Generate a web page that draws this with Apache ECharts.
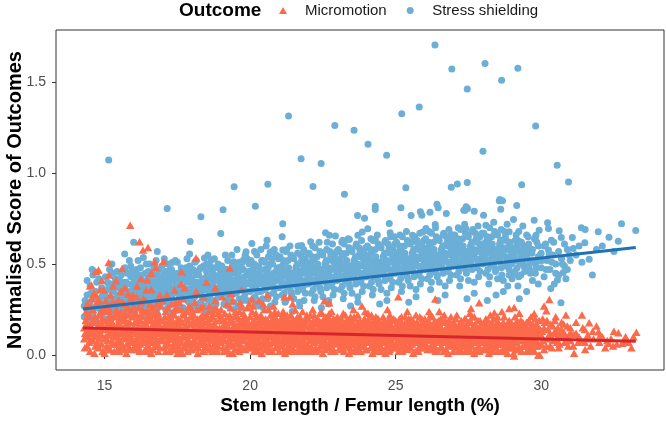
<!DOCTYPE html>
<html>
<head>
<meta charset="utf-8">
<title>Outcome vs stem length</title>
<script src="https://cdn.jsdelivr.net/npm/echarts@6/dist/echarts.min.js"></script>
<style>
  html, body { margin: 0; padding: 0; background: #fff; }
  #chart { width: 666px; height: 421px; }
</style>
</head>
<body>
<div id="chart"></div>
<script>
// values
const xTicks = [15, 20, 25, 30];
const yTicks = [0, 0.5, 1.0, 1.5];

// fitted lines, endpoints
const fitX = [14.26, 33.25];
const stressFit = [0.253, 0.592];
const microFit = [0.148, 0.075];

const stressPoints = [
  [14.3,0.21],[14.3,0.27],[14.4,0.24],[14.4,0.33],[14.5,0.19],[14.5,0.29],[14.5,0.38],[14.6,0.23],[14.6,0.31],[14.7,0.26],
  [14.7,0.35],[14.7,0.2],[14.8,0.28],[14.8,0.42],[14.9,0.22],[14.9,0.32],[14.9,0.37],[14.4,0.41],[14.6,0.44],[14.85,0.25],
  [14.33,0.3],[14.43,0.26],[14.53,0.34],[14.63,0.2],[14.73,0.4],[14.83,0.3],[14.93,0.27],[14.57,0.47],
  [15.0,0.24],[15.0,0.34],[15.1,0.29],[15.1,0.4],[15.1,0.2],[15.2,0.27],[15.2,0.36],[15.3,0.23],[15.3,0.31],[15.3,0.45],
  [15.4,0.26],[15.4,0.38],[15.5,0.3],[15.5,0.21],[15.5,0.42],[15.6,0.28],[15.6,0.35],[15.7,0.25],[15.7,0.33],[15.7,0.48],
  [15.8,0.3],[15.8,0.39],[15.9,0.27],[15.9,0.43],[15.9,0.22],[15.25,0.5],[15.45,0.33],[15.85,0.52],[15.69,0.555],[16.0,0.621],
  [15.14,1.073],
  [15.03,0.28],[15.03,0.43],[15.1,0.36],[15.1,0.24],[15.17,0.31],[15.17,0.47],[15.23,0.2],[15.23,0.39],[15.3,0.35],[15.3,0.27],
  [15.37,0.42],[15.37,0.22],[15.43,0.29],[15.43,0.46],[15.5,0.37],[15.5,0.25],[15.57,0.32],[15.57,0.44],[15.63,0.21],[15.63,0.4],
  [15.7,0.29],[15.7,0.36],[15.77,0.45],[15.77,0.23],[15.83,0.34],[15.83,0.27],[15.9,0.49],[15.9,0.33],[15.97,0.37],[15.97,0.25],
  [15.02,0.33],[15.08,0.26],[15.14,0.39],[15.2,0.31],[15.26,0.24],[15.32,0.37],[15.38,0.3],[15.44,0.41],[15.5,0.28],[15.56,0.38],
  [15.62,0.33],[15.68,0.26],[15.74,0.4],[15.8,0.35],[15.86,0.29],[15.92,0.46],
  [16.0,0.31],[16.0,0.4],[16.1,0.26],[16.1,0.35],[16.1,0.47],[16.2,0.29],[16.2,0.42],[16.3,0.24],[16.3,0.36],[16.4,0.32],
  [16.4,0.45],[16.4,0.27],[16.5,0.38],[16.5,0.3],[16.6,0.22],[16.6,0.41],[16.6,0.34],[16.7,0.28],[16.7,0.49],[16.8,0.33],
  [16.8,0.25],[16.8,0.44],[16.9,0.37],[16.9,0.3],[16.15,0.52],[16.55,0.5],[16.95,0.41],[16.33,0.536],[16.81,0.569],
  [16.03,0.36],[16.03,0.23],[16.1,0.44],[16.1,0.3],[16.17,0.38],[16.17,0.26],[16.23,0.48],[16.23,0.33],[16.3,0.28],[16.3,0.41],
  [16.37,0.35],[16.37,0.21],[16.43,0.39],[16.43,0.5],[16.5,0.27],[16.5,0.43],[16.57,0.31],[16.57,0.37],[16.63,0.46],[16.63,0.25],
  [16.7,0.35],[16.7,0.4],[16.77,0.29],[16.77,0.52],[16.83,0.38],[16.83,0.22],[16.9,0.43],[16.9,0.27],[16.97,0.34],[16.97,0.49],
  [16.02,0.34],[16.08,0.41],[16.14,0.29],[16.2,0.37],[16.26,0.44],[16.32,0.31],[16.38,0.39],[16.44,0.35],[16.5,0.46],[16.56,0.28],
  [16.62,0.38],[16.68,0.43],[16.74,0.32],[16.8,0.4],[16.86,0.47],[16.92,0.35],
  [17.0,0.29],[17.0,0.39],[17.1,0.34],[17.1,0.46],[17.2,0.27],[17.2,0.41],[17.3,0.32],[17.3,0.37],[17.4,0.24],[17.4,0.44],
  [17.5,0.35],[17.5,0.29],[17.5,0.51],[17.6,0.39],[17.6,0.31],[17.7,0.43],[17.7,0.26],[17.8,0.36],[17.8,0.48],[17.9,0.33],
  [17.9,0.4],[17.05,0.53],[17.25,0.47],[17.55,0.42],[17.85,0.3],[17.95,0.46],[17.32,0.509],[17.92,0.555],[17.94,0.624],[17.15,0.806],
  [17.03,0.33],[17.03,0.45],[17.1,0.25],[17.1,0.4],[17.17,0.36],[17.17,0.5],[17.23,0.29],[17.23,0.43],[17.3,0.47],[17.3,0.23],
  [17.37,0.34],[17.37,0.41],[17.43,0.28],[17.43,0.52],[17.5,0.38],[17.5,0.45],[17.57,0.26],[17.57,0.35],[17.63,0.48],[17.63,0.42],
  [17.7,0.31],[17.7,0.37],[17.77,0.45],[17.77,0.24],[17.83,0.4],[17.83,0.53],[17.9,0.29],[17.9,0.44],[17.97,0.36],[17.97,0.27],
  [17.02,0.37],[17.08,0.43],[17.14,0.31],[17.2,0.39],[17.26,0.35],[17.32,0.45],[17.38,0.29],[17.44,0.38],[17.5,0.42],[17.56,0.33],
  [17.62,0.37],[17.68,0.47],[17.74,0.34],[17.8,0.41],[17.86,0.36],[17.92,0.49],
  [18.0,0.31],[18.0,0.42],[18.1,0.37],[18.1,0.27],[18.2,0.45],[18.2,0.34],[18.3,0.4],[18.3,0.29],[18.4,0.36],[18.4,0.49],
  [18.5,0.32],[18.5,0.43],[18.6,0.38],[18.6,0.26],[18.7,0.46],[18.7,0.35],[18.8,0.41],[18.8,0.3],[18.9,0.37],[18.9,0.5],
  [18.15,0.52],[18.45,0.24],[18.55,0.55],[18.75,0.28],[18.95,0.44],[18.43,0.533],[18.66,0.522],[18.31,0.76],[18.99,0.668],
  [18.03,0.37],[18.03,0.47],[18.1,0.32],[18.1,0.51],[18.17,0.28],[18.17,0.4],[18.23,0.44],[18.23,0.25],[18.3,0.35],[18.3,0.48],
  [18.37,0.31],[18.37,0.42],[18.43,0.38],[18.43,0.27],[18.5,0.46],[18.5,0.36],[18.57,0.3],[18.57,0.41],[18.63,0.49],[18.63,0.34],
  [18.7,0.39],[18.7,0.25],[18.77,0.44],[18.77,0.53],[18.83,0.35],[18.83,0.28],[18.9,0.42],[18.9,0.32],[18.97,0.47],[18.97,0.38],
  [18.02,0.39],[18.08,0.34],[18.14,0.44],[18.2,0.38],[18.26,0.47],[18.32,0.33],[18.38,0.41],[18.44,0.36],[18.5,0.5],[18.56,0.4],
  [18.62,0.32],[18.68,0.43],[18.74,0.37],[18.8,0.48],[18.86,0.41],[18.92,0.35],
  [19.0,0.33],[19.0,0.44],[19.1,0.39],[19.1,0.28],[19.2,0.47],[19.2,0.36],[19.3,0.41],[19.3,0.31],[19.4,0.38],[19.4,0.5],
  [19.5,0.34],[19.5,0.45],[19.6,0.4],[19.6,0.27],[19.7,0.48],[19.7,0.36],[19.8,0.43],[19.8,0.32],[19.9,0.39],[19.9,0.53],
  [19.15,0.55],[19.45,0.25],[19.55,0.58],[19.75,0.3],[19.95,0.46],[19.44,0.513],[19.78,0.525],[19.86,0.568],[19.07,0.799],[19.45,0.925],
  [19.03,0.38],[19.03,0.49],[19.1,0.34],[19.1,0.45],[19.17,0.3],[19.17,0.42],[19.23,0.52],[19.23,0.27],[19.3,0.37],[19.3,0.46],
  [19.37,0.33],[19.37,0.55],[19.43,0.41],[19.43,0.29],[19.5,0.48],[19.5,0.39],[19.57,0.35],[19.57,0.44],[19.63,0.31],[19.63,0.51],
  [19.7,0.42],[19.7,0.26],[19.77,0.37],[19.77,0.47],[19.83,0.34],[19.83,0.55],[19.9,0.44],[19.9,0.3],[19.97,0.4],[19.97,0.5],
  [19.02,0.41],[19.08,0.36],[19.14,0.47],[19.2,0.4],[19.26,0.33],[19.32,0.44],[19.38,0.39],[19.44,0.49],[19.5,0.36],[19.56,0.42],
  [19.62,0.46],[19.68,0.38],[19.74,0.51],[19.8,0.4],[19.86,0.35],[19.92,0.45],
  [20.0,0.35],[20.0,0.46],[20.1,0.41],[20.1,0.3],[20.2,0.49],[20.2,0.38],[20.3,0.43],[20.3,0.27],[20.4,0.4],[20.4,0.52],
  [20.5,0.36],[20.5,0.47],[20.6,0.42],[20.6,0.31],[20.7,0.5],[20.7,0.38],[20.8,0.45],[20.8,0.34],[20.9,0.41],[20.9,0.55],
  [20.15,0.57],[20.45,0.26],[20.55,0.6],[20.85,0.29],[20.95,0.48],[20.06,0.613],[20.58,0.632],[20.69,0.564],[20.72,0.568],[20.18,0.819],
  [20.61,0.94],
  [20.03,0.4],[20.03,0.52],[20.1,0.36],[20.1,0.47],[20.17,0.32],[20.17,0.44],[20.23,0.55],[20.23,0.28],[20.3,0.39],[20.3,0.49],
  [20.37,0.35],[20.37,0.58],[20.43,0.43],[20.43,0.31],[20.5,0.51],[20.5,0.41],[20.57,0.37],[20.57,0.46],[20.63,0.33],[20.63,0.54],
  [20.7,0.44],[20.7,0.27],[20.77,0.39],[20.77,0.5],[20.83,0.36],[20.83,0.58],[20.9,0.46],[20.9,0.32],[20.97,0.42],[20.97,0.53],
  [20.02,0.43],[20.08,0.38],[20.14,0.5],[20.2,0.42],[20.26,0.35],[20.32,0.46],[20.38,0.41],[20.44,0.52],[20.5,0.38],[20.56,0.44],
  [20.62,0.48],[20.68,0.4],[20.74,0.53],[20.8,0.43],[20.86,0.37],[20.92,0.47],
  [21.0,0.37],[21.0,0.48],[21.1,0.33],[21.1,0.43],[21.2,0.51],[21.2,0.29],[21.3,0.4],[21.3,0.46],[21.4,0.35],[21.4,0.55],
  [21.5,0.42],[21.5,0.31],[21.6,0.49],[21.6,0.38],[21.7,0.44],[21.7,0.27],[21.8,0.5],[21.8,0.36],[21.9,0.41],[21.9,0.53],
  [21.25,0.58],[21.45,0.24],[21.65,0.6],[21.85,0.3],[21.95,0.47],[21.12,0.577],[21.1,0.65],[21.12,0.722],[21.77,0.602],[21.84,0.581],
  [21.32,1.315],[21.75,1.079],
  [21.03,0.42],[21.03,0.54],[21.1,0.38],[21.1,0.49],[21.17,0.34],[21.17,0.46],[21.23,0.57],[21.23,0.3],[21.3,0.41],[21.3,0.52],
  [21.37,0.37],[21.37,0.6],[21.43,0.45],[21.43,0.33],[21.5,0.53],[21.5,0.43],[21.57,0.39],[21.57,0.48],[21.63,0.35],[21.63,0.56],
  [21.7,0.46],[21.7,0.29],[21.77,0.41],[21.77,0.52],[21.83,0.38],[21.83,0.47],[21.9,0.48],[21.9,0.34],[21.97,0.44],[21.97,0.56],
  [21.02,0.45],[21.08,0.4],[21.14,0.52],[21.2,0.44],[21.26,0.37],[21.32,0.48],[21.38,0.43],[21.44,0.54],[21.5,0.4],[21.56,0.46],
  [21.62,0.5],[21.68,0.42],[21.74,0.55],[21.8,0.45],[21.86,0.39],[21.92,0.49],
  [22.0,0.39],[22.0,0.5],[22.1,0.34],[22.1,0.45],[22.2,0.53],[22.2,0.3],[22.3,0.42],[22.3,0.48],[22.4,0.37],[22.4,0.57],
  [22.5,0.44],[22.5,0.32],[22.6,0.51],[22.6,0.4],[22.7,0.46],[22.7,0.28],[22.8,0.52],[22.8,0.38],[22.9,0.43],[22.9,0.55],
  [22.15,0.6],[22.45,0.26],[22.65,0.62],[22.85,0.33],[22.95,0.49],[22.59,0.672],[22.72,0.659],[22.93,0.655],[22.08,0.623],[22.44,1.053],
  [22.16,0.927],[22.91,1.262],
  [22.03,0.44],[22.03,0.56],[22.1,0.4],[22.1,0.51],[22.17,0.36],[22.17,0.48],[22.23,0.59],[22.23,0.32],[22.3,0.43],[22.3,0.54],
  [22.37,0.39],[22.37,0.62],[22.43,0.47],[22.43,0.35],[22.5,0.55],[22.5,0.45],[22.57,0.41],[22.57,0.5],[22.63,0.37],[22.63,0.58],
  [22.7,0.48],[22.7,0.3],[22.77,0.43],[22.77,0.54],[22.83,0.4],[22.83,0.61],[22.9,0.5],[22.9,0.36],[22.97,0.46],[22.97,0.57],
  [22.02,0.47],[22.08,0.42],[22.14,0.54],[22.2,0.46],[22.26,0.39],[22.32,0.5],[22.38,0.45],[22.44,0.56],[22.5,0.42],[22.56,0.48],
  [22.62,0.52],[22.68,0.44],[22.74,0.57],[22.8,0.47],[22.86,0.41],[22.92,0.51],
  [23.0,0.41],[23.0,0.52],[23.1,0.36],[23.1,0.47],[23.2,0.55],[23.2,0.31],[23.3,0.44],[23.3,0.5],[23.4,0.39],[23.4,0.59],
  [23.5,0.46],[23.5,0.34],[23.6,0.53],[23.6,0.42],[23.7,0.48],[23.7,0.29],[23.8,0.54],[23.8,0.4],[23.9,0.45],[23.9,0.57],
  [23.15,0.62],[23.45,0.27],[23.65,0.61],[23.85,0.35],[23.95,0.51],[23.18,0.632],[23.41,0.636],[23.7,0.659],[23.85,0.677],[23.69,0.767],
  [23.93,0.753],[23.24,0.885],[23.57,1.236],
  [23.03,0.46],[23.03,0.58],[23.1,0.42],[23.1,0.53],[23.17,0.38],[23.17,0.5],[23.23,0.61],[23.23,0.34],[23.3,0.45],[23.3,0.56],
  [23.37,0.41],[23.37,0.64],[23.43,0.49],[23.43,0.37],[23.5,0.57],[23.5,0.47],[23.57,0.43],[23.57,0.52],[23.63,0.39],[23.63,0.6],
  [23.7,0.5],[23.7,0.32],[23.77,0.45],[23.77,0.56],[23.83,0.42],[23.83,0.63],[23.9,0.52],[23.9,0.38],[23.97,0.48],[23.97,0.59],
  [23.02,0.49],[23.08,0.44],[23.14,0.56],[23.2,0.48],[23.26,0.41],[23.32,0.52],[23.38,0.47],[23.44,0.58],[23.5,0.44],[23.56,0.5],
  [23.62,0.54],[23.68,0.46],[23.74,0.59],[23.8,0.49],[23.86,0.43],[23.92,0.53],
  [24.0,0.43],[24.0,0.54],[24.1,0.38],[24.1,0.49],[24.2,0.57],[24.2,0.33],[24.3,0.46],[24.3,0.52],[24.4,0.41],[24.4,0.61],
  [24.5,0.48],[24.5,0.36],[24.6,0.55],[24.6,0.44],[24.7,0.5],[24.7,0.3],[24.8,0.56],[24.8,0.42],[24.9,0.47],[24.9,0.59],
  [24.15,0.64],[24.45,0.28],[24.65,0.63],[24.85,0.37],[24.95,0.53],[24.04,0.694],[24.3,0.636],[24.3,0.819],[24.3,0.8],[24.78,0.723],
  [24.81,0.672],[24.96,0.65],[24.05,1.159],[24.69,1.099],
  [24.03,0.48],[24.03,0.6],[24.1,0.44],[24.1,0.55],[24.17,0.4],[24.17,0.52],[24.23,0.63],[24.23,0.36],[24.3,0.47],[24.3,0.58],
  [24.37,0.43],[24.37,0.66],[24.43,0.51],[24.43,0.39],[24.5,0.59],[24.5,0.49],[24.57,0.45],[24.57,0.54],[24.63,0.41],[24.63,0.62],
  [24.7,0.52],[24.7,0.34],[24.77,0.47],[24.77,0.58],[24.83,0.44],[24.83,0.65],[24.9,0.54],[24.9,0.4],[24.97,0.5],[24.97,0.61],
  [24.02,0.51],[24.08,0.46],[24.14,0.58],[24.2,0.5],[24.26,0.43],[24.32,0.54],[24.38,0.49],[24.44,0.6],[24.5,0.46],[24.56,0.52],
  [24.62,0.56],[24.68,0.48],[24.74,0.61],[24.8,0.51],[24.86,0.45],[24.92,0.55],
  [25.0,0.45],[25.0,0.56],[25.1,0.4],[25.1,0.51],[25.2,0.59],[25.2,0.35],[25.3,0.48],[25.3,0.54],[25.4,0.43],[25.4,0.63],
  [25.5,0.5],[25.5,0.38],[25.6,0.57],[25.6,0.46],[25.7,0.52],[25.7,0.32],[25.8,0.58],[25.8,0.44],[25.9,0.49],[25.9,0.61],
  [25.15,0.66],[25.45,0.29],[25.65,0.65],[25.85,0.39],[25.95,0.55],[25.18,0.81],[25.53,0.767],[25.85,0.788],[25.9,0.769],[25.58,0.659],
  [25.58,0.623],[25.93,0.677],[25.21,1.327],[25.35,0.92],[25.81,1.364],
  [25.03,0.5],[25.03,0.62],[25.1,0.46],[25.1,0.57],[25.17,0.42],[25.17,0.54],[25.23,0.65],[25.23,0.38],[25.3,0.49],[25.3,0.6],
  [25.37,0.45],[25.37,0.68],[25.43,0.53],[25.43,0.41],[25.5,0.61],[25.5,0.51],[25.57,0.47],[25.57,0.56],[25.63,0.43],[25.63,0.64],
  [25.7,0.54],[25.7,0.36],[25.77,0.49],[25.77,0.6],[25.83,0.46],[25.83,0.67],[25.9,0.56],[25.9,0.42],[25.97,0.52],[25.97,0.63],
  [25.02,0.53],[25.08,0.48],[25.14,0.6],[25.2,0.52],[25.26,0.45],[25.32,0.56],[25.38,0.51],[25.44,0.62],[25.5,0.48],[25.56,0.54],
  [25.62,0.58],[25.68,0.5],[25.74,0.63],[25.8,0.53],[25.86,0.47],[25.92,0.57],
  [26.0,0.47],[26.0,0.58],[26.1,0.42],[26.1,0.53],[26.2,0.61],[26.2,0.36],[26.3,0.5],[26.3,0.56],[26.4,0.45],[26.4,0.65],
  [26.5,0.52],[26.5,0.4],[26.6,0.59],[26.6,0.48],[26.7,0.54],[26.7,0.33],[26.8,0.6],[26.8,0.46],[26.9,0.51],[26.9,0.63],
  [26.15,0.68],[26.45,0.3],[26.65,0.67],[26.85,0.41],[26.95,0.57],[26.04,0.696],[26.36,0.718],[26.42,0.83],[26.46,0.81],[26.18,0.786],
  [26.74,0.778],[26.9,0.665],[26.94,0.632],[26.35,1.705],[26.93,1.573],[26.91,0.923],
  [26.03,0.52],[26.03,0.64],[26.1,0.48],[26.1,0.59],[26.17,0.44],[26.17,0.56],[26.23,0.67],[26.23,0.4],[26.3,0.51],[26.3,0.62],
  [26.37,0.47],[26.37,0.7],[26.43,0.55],[26.43,0.43],[26.5,0.63],[26.5,0.53],[26.57,0.49],[26.57,0.58],[26.63,0.45],[26.63,0.66],
  [26.7,0.56],[26.7,0.38],[26.77,0.51],[26.77,0.62],[26.83,0.48],[26.83,0.69],[26.9,0.58],[26.9,0.44],[26.97,0.54],[26.97,0.65],
  [26.02,0.55],[26.08,0.5],[26.14,0.62],[26.2,0.54],[26.26,0.47],[26.32,0.58],[26.38,0.53],[26.44,0.64],[26.5,0.5],[26.56,0.56],
  [26.62,0.6],[26.68,0.52],[26.74,0.65],[26.8,0.55],[26.86,0.49],[26.92,0.59],
  [27.0,0.49],[27.0,0.6],[27.1,0.44],[27.1,0.55],[27.2,0.63],[27.2,0.38],[27.3,0.52],[27.3,0.58],[27.4,0.47],[27.4,0.67],
  [27.5,0.54],[27.5,0.41],[27.6,0.61],[27.6,0.5],[27.7,0.56],[27.7,0.34],[27.8,0.62],[27.8,0.48],[27.9,0.53],[27.9,0.65],
  [27.15,0.7],[27.45,0.31],[27.65,0.69],[27.85,0.43],[27.95,0.58],[27.2,0.621],[27.34,0.797],[27.42,0.815],[27.39,0.797],[27.47,0.806],
  [27.7,0.791],[27.41,0.696],[27.12,0.941],[27.46,0.949],[27.46,1.463],
  [27.03,0.54],[27.03,0.66],[27.1,0.5],[27.1,0.61],[27.17,0.46],[27.17,0.58],[27.23,0.69],[27.23,0.42],[27.3,0.53],[27.3,0.64],
  [27.37,0.49],[27.37,0.72],[27.43,0.57],[27.43,0.45],[27.5,0.65],[27.5,0.55],[27.57,0.51],[27.57,0.6],[27.63,0.47],[27.63,0.68],
  [27.7,0.58],[27.7,0.4],[27.77,0.53],[27.77,0.64],[27.83,0.5],[27.83,0.71],[27.9,0.6],[27.9,0.46],[27.97,0.56],[27.97,0.67],
  [27.02,0.57],[27.08,0.52],[27.14,0.64],[27.2,0.56],[27.26,0.49],[27.32,0.6],[27.38,0.55],[27.44,0.66],[27.5,0.52],[27.56,0.58],
  [27.62,0.62],[27.68,0.54],[27.74,0.67],[27.8,0.57],[27.86,0.51],[27.92,0.61],
  [28.0,0.5],[28.0,0.61],[28.1,0.45],[28.1,0.56],[28.2,0.64],[28.2,0.39],[28.3,0.53],[28.3,0.59],[28.4,0.48],[28.4,0.68],
  [28.5,0.55],[28.5,0.42],[28.6,0.62],[28.6,0.51],[28.7,0.57],[28.7,0.35],[28.8,0.63],[28.8,0.49],[28.9,0.54],[28.9,0.47],
  [28.15,0.3],[28.45,0.33],[28.65,0.44],[28.85,0.38],[28.95,0.59],[28.02,0.769],[28.1,0.714],[28.56,0.848],[28.67,0.848],[28.61,0.802],
  [28.9,0.678],[28.61,0.632],[28.07,1.604],[28.64,1.511],[28.0,1.121],[28.58,0.855],
  [28.03,0.55],[28.03,0.67],[28.1,0.51],[28.1,0.62],[28.17,0.47],[28.17,0.59],[28.23,0.7],[28.23,0.43],[28.3,0.54],[28.3,0.65],
  [28.37,0.5],[28.37,0.73],[28.43,0.58],[28.43,0.46],[28.5,0.66],[28.5,0.56],[28.57,0.52],[28.57,0.61],[28.63,0.48],[28.63,0.69],
  [28.7,0.59],[28.7,0.41],[28.77,0.54],[28.77,0.65],[28.83,0.51],[28.83,0.72],[28.9,0.61],[28.9,0.44],[28.97,0.57],[28.97,0.5],
  [28.02,0.58],[28.08,0.53],[28.14,0.65],[28.2,0.57],[28.26,0.5],[28.32,0.61],[28.38,0.56],[28.44,0.67],[28.5,0.53],[28.56,0.59],
  [28.62,0.63],[28.68,0.55],[28.74,0.68],[28.8,0.58],[28.86,0.52],[28.92,0.62],
  [29.0,0.51],[29.0,0.42],[29.1,0.46],[29.1,0.57],[29.2,0.63],[29.2,0.38],[29.3,0.53],[29.3,0.44],[29.4,0.49],[29.4,0.6],
  [29.5,0.55],[29.5,0.35],[29.6,0.47],[29.6,0.52],[29.7,0.58],[29.7,0.41],[29.8,0.5],[29.8,0.45],[29.9,0.54],[29.9,0.39],
  [29.25,0.31],[29.55,0.65],[29.85,0.62],[29.16,0.822],[29.05,0.745],[29.76,0.742],[29.82,0.659],[29.93,0.687],[29.19,0.573],[29.2,1.577],
  [29.81,1.26],[29.33,0.936],
  [29.03,0.56],[29.03,0.44],[29.1,0.52],[29.1,0.63],[29.17,0.48],[29.17,0.6],[29.23,0.68],[29.23,0.43],[29.3,0.55],[29.3,0.62],
  [29.37,0.5],[29.37,0.71],[29.43,0.58],[29.43,0.46],[29.5,0.66],[29.5,0.53],[29.57,0.49],[29.57,0.61],[29.63,0.45],[29.63,0.57],
  [29.7,0.52],[29.77,0.64],[29.83,0.48],[29.9,0.6],[29.97,0.55],
  [29.02,0.59],[29.08,0.54],[29.14,0.66],[29.2,0.58],[29.26,0.51],[29.32,0.62],[29.38,0.57],[29.44,0.53],[29.56,0.6],[29.68,0.56],
  [29.8,0.64],[29.92,0.52],
  [30.0,0.48],[30.0,0.56],[30.1,0.43],[30.2,0.52],[30.3,0.47],[30.4,0.55],[30.5,0.5],[30.6,0.44],[30.7,0.53],[30.8,0.49],
  [30.9,0.58],[30.15,0.61],[30.45,0.39],[30.85,0.42],[30.22,0.727],[30.25,0.696],[30.62,0.683],[30.69,0.646],[30.35,0.632],[30.76,0.454],
  [30.56,0.412],[30.33,0.366],[30.68,0.287],[30.25,0.577],[31.07,0.646],[30.55,1.044],[30.94,0.952],
  [30.03,0.52],[30.1,0.6],[30.17,0.47],[30.27,0.55],[30.37,0.51],[30.43,0.62],[30.5,0.45],[30.6,0.57],[30.73,0.5],[30.8,0.61],
  [30.9,0.47],[30.97,0.55],
  [31.38,0.7],[31.51,0.69],[31.96,0.678],[32.33,0.648],[32.65,0.626],[31.5,0.617],[31.1,0.586],[31.65,0.527],[31.76,0.44],[32.76,0.722],
  [33.25,0.685],[31.2,0.55],[31.3,0.6],[31.4,0.51],[31.0,0.52],[31.9,0.58],[32.1,0.6],[32.5,0.57]
];

const microPoints = [
  [14.3,0.09],[14.3,0.15],[14.4,0.21],[14.4,0.05],[14.4,0.28],[14.5,0.12],[14.5,0.38],[14.5,0.02],[14.6,0.18],[14.6,0.25],
  [14.6,0.08],[14.7,0.33],[14.7,0.14],[14.7,0.46],[14.8,0.04],[14.8,0.22],[14.8,0.3],[14.9,0.11],[14.9,0.17],[14.9,0.41],
  [14.95,0.26],[14.35,0.19],[14.55,0.31],[14.65,0.01],[14.75,0.07],[14.85,0.36],[14.45,0.13],[14.9,0.06],
  [14.33,0.12],[14.37,0.24],[14.43,0.17],[14.47,0.07],[14.53,0.27],[14.57,0.15],[14.63,0.1],[14.67,0.21],[14.73,0.29],[14.77,0.16],
  [14.83,0.12],[14.87,0.24],[14.93,0.02],[14.97,0.15],[14.63,0.34],
  [14.32,0.04],[14.38,0.17],[14.42,0.1],[14.48,0.22],[14.52,0.08],[14.58,0.13],[14.62,0.19],[14.68,0.05],[14.72,0.11],[14.78,0.18],
  [14.82,0.09],[14.88,0.14],[14.92,0.2],
  [15.14,0.509],[15.6,0.476],[14.79,0.467],[15.88,0.714],[15.29,0.379],[14.97,0.357],[15.81,0.335],[14.54,0.385],
  [15.0,0.01],[15.0,0.19],[15.1,0.08],[15.1,0.27],[15.1,0.14],[15.2,0.03],[15.2,0.22],[15.2,0.33],[15.3,0.11],[15.3,0.17],
  [15.3,0.06],[15.4,0.25],[15.4,0.13],[15.4,0.41],[15.5,0.02],[15.5,0.2],[15.5,0.09],[15.6,0.29],[15.6,0.15],[15.6,0.05],
  [15.7,0.23],[15.7,0.12],[15.7,0.37],[15.8,0.07],[15.8,0.18],[15.8,0.26],[15.9,0.1],[15.9,0.31],[15.9,0.03],[15.05,0.24],
  [15.15,0.44],[15.25,0.15],[15.35,0.28],[15.45,0.07],[15.55,0.35],[15.65,0.19],[15.75,0.01],[15.85,0.14],[15.95,0.21],[15.45,0.17],
  [15.65,0.1],
  [15.03,0.1],[15.03,0.3],[15.07,0.16],[15.07,0.05],[15.13,0.2],[15.13,0.11],[15.17,0.25],[15.17,0.03],[15.23,0.08],[15.23,0.18],
  [15.27,0.12],[15.27,0.29],[15.33,0.21],[15.33,0.02],[15.37,0.14],[15.37,0.06],[15.43,0.23],[15.43,0.1],[15.47,0.3],[15.47,0.04],
  [15.53,0.16],[15.53,0.12],[15.57,0.24],[15.57,0.07],[15.63,0.13],[15.63,0.22],[15.67,0.03],[15.67,0.28],[15.73,0.17],[15.73,0.09],
  [15.77,0.26],[15.77,0.13],[15.83,0.04],[15.83,0.22],[15.87,0.11],[15.87,0.18],[15.93,0.25],[15.93,0.07],[15.97,0.15],[15.97,0.33],
  [15.02,0.09],[15.08,0.17],[15.12,0.04],[15.18,0.13],[15.22,0.19],[15.28,0.07],[15.32,0.15],[15.38,0.1],[15.42,0.02],[15.48,0.18],
  [15.52,0.08],[15.58,0.14],[15.62,0.05],[15.68,0.2],[15.72,0.11],[15.78,0.06],[15.82,0.16],[15.88,0.09],
  [16.2,0.623],[16.32,0.577],[16.49,0.592],[16.72,0.513],[17.03,0.516],[16.76,0.482],[16.46,0.412],[16.11,0.379],[16.43,0.357],
  [16.0,0.13],[16.0,0.04],[16.0,0.27],[16.1,0.18],[16.1,0.09],[16.1,0.32],[16.2,0.02],[16.2,0.21],[16.2,0.14],[16.3,0.25],
  [16.3,0.07],[16.3,0.16],[16.4,0.11],[16.4,0.3],[16.4,0.03],[16.5,0.19],[16.5,0.24],[16.5,0.08],[16.6,0.13],[16.6,0.36],
  [16.6,0.01],[16.7,0.22],[16.7,0.1],[16.7,0.17],[16.8,0.05],[16.8,0.28],[16.8,0.14],[16.9,0.2],[16.9,0.09],[16.9,0.33],
  [16.05,0.22],[16.15,0.06],[16.25,0.29],[16.35,0.12],[16.45,0.2],[16.55,0.04],[16.65,0.26],[16.75,0.15],[16.85,0.02],[16.95,0.12],
  [16.25,0.42],[16.6,0.45],
  [16.03,0.08],[16.03,0.18],[16.07,0.23],[16.07,0.12],[16.13,0.03],[16.13,0.15],[16.17,0.26],[16.17,0.1],[16.23,0.19],[16.23,0.06],
  [16.27,0.13],[16.27,0.22],[16.33,0.09],[16.33,0.31],[16.37,0.17],[16.37,0.02],[16.43,0.24],[16.43,0.12],[16.47,0.05],[16.47,0.16],
  [16.53,0.21],[16.53,0.1],[16.57,0.14],[16.57,0.28],[16.63,0.07],[16.63,0.19],[16.67,0.11],[16.67,0.03],[16.73,0.25],[16.73,0.15],
  [16.77,0.08],[16.77,0.2],[16.83,0.12],[16.83,0.23],[16.87,0.17],[16.87,0.05],[16.93,0.14],[16.93,0.27],[16.97,0.09],[16.97,0.19],
  [16.02,0.15],[16.08,0.06],[16.12,0.19],[16.18,0.12],[16.22,0.03],[16.28,0.1],[16.32,0.17],[16.38,0.07],[16.42,0.13],[16.48,0.2],
  [16.52,0.02],[16.58,0.09],[16.62,0.16],[16.68,0.12],[16.72,0.05],[16.78,0.18],[16.82,0.08],[16.88,0.14],
  [17.64,0.458],[17.4,0.357],[17.63,0.39],
  [17.0,0.08],[17.0,0.19],[17.0,0.3],[17.1,0.02],[17.1,0.14],[17.1,0.24],[17.2,0.11],[17.2,0.06],[17.2,0.21],[17.3,0.17],
  [17.3,0.28],[17.3,0.03],[17.4,0.12],[17.4,0.22],[17.4,0.07],[17.5,0.15],[17.5,0.01],[17.5,0.26],[17.6,0.09],[17.6,0.19],
  [17.6,0.13],[17.7,0.04],[17.7,0.23],[17.7,0.31],[17.8,0.16],[17.8,0.1],[17.8,0.2],[17.9,0.06],[17.9,0.27],[17.9,0.14],
  [17.05,0.12],[17.15,0.33],[17.25,0.16],[17.35,0.09],[17.45,0.18],[17.55,0.05],[17.65,0.25],[17.75,0.12],[17.85,0.02],[17.95,0.21],
  [17.45,0.29],[17.75,0.37],
  [17.03,0.15],[17.03,0.04],[17.07,0.21],[17.07,0.1],[17.13,0.17],[17.13,0.07],[17.17,0.12],[17.17,0.26],[17.23,0.02],[17.23,0.19],
  [17.27,0.09],[17.27,0.14],[17.33,0.23],[17.33,0.13],[17.37,0.05],[17.37,0.18],[17.43,0.11],[17.43,0.25],[17.47,0.15],[17.47,0.03],
  [17.53,0.2],[17.53,0.1],[17.57,0.16],[17.57,0.29],[17.63,0.07],[17.63,0.14],[17.67,0.18],[17.67,0.01],[17.73,0.11],[17.73,0.22],
  [17.77,0.06],[17.77,0.16],[17.83,0.24],[17.83,0.13],[17.87,0.09],[17.87,0.19],[17.93,0.03],[17.93,0.17],[17.97,0.11],[17.97,0.26],
  [17.02,0.11],[17.08,0.17],[17.12,0.05],[17.18,0.14],[17.22,0.09],[17.28,0.2],[17.32,0.03],[17.38,0.12],[17.42,0.16],[17.48,0.07],
  [17.52,0.13],[17.58,0.02],[17.62,0.18],[17.68,0.1],[17.72,0.15],[17.78,0.04],[17.82,0.12],[17.88,0.07],
  [18.14,0.534],
  [18.0,0.11],[18.0,0.03],[18.0,0.24],[18.1,0.17],[18.1,0.08],[18.1,0.29],[18.2,0.13],[18.2,0.2],[18.2,0.01],[18.3,0.06],
  [18.3,0.26],[18.3,0.15],[18.4,0.1],[18.4,0.19],[18.4,0.32],[18.5,0.04],[18.5,0.14],[18.5,0.22],[18.6,0.09],[18.6,0.27],
  [18.6,0.17],[18.7,0.02],[18.7,0.12],[18.7,0.21],[18.8,0.16],[18.8,0.07],[18.8,0.3],[18.9,0.11],[18.9,0.23],[18.9,0.05],
  [18.05,0.19],[18.15,0.35],[18.25,0.1],[18.35,0.22],[18.45,0.06],[18.55,0.18],[18.65,0.12],[18.75,0.25],[18.85,0.03],[18.95,0.15],
  [18.5,0.4],[18.8,0.37],
  [18.03,0.14],[18.03,0.07],[18.07,0.22],[18.07,0.12],[18.13,0.04],[18.13,0.18],[18.17,0.1],[18.17,0.25],[18.23,0.15],[18.23,0.06],
  [18.27,0.2],[18.27,0.13],[18.33,0.09],[18.33,0.17],[18.37,0.02],[18.37,0.27],[18.43,0.14],[18.43,0.21],[18.47,0.11],[18.47,0.05],
  [18.53,0.18],[18.53,0.09],[18.57,0.24],[18.57,0.13],[18.63,0.03],[18.63,0.2],[18.67,0.16],[18.67,0.08],[18.73,0.12],[18.73,0.23],
  [18.77,0.05],[18.77,0.17],[18.83,0.1],[18.83,0.26],[18.87,0.14],[18.87,0.02],[18.93,0.19],[18.93,0.08],[18.97,0.13],[18.97,0.22],
  [18.02,0.06],[18.08,0.15],[18.12,0.1],[18.18,0.19],[18.22,0.04],[18.28,0.12],[18.32,0.17],[18.38,0.08],[18.42,0.02],[18.48,0.14],
  [18.52,0.11],[18.58,0.06],[18.62,0.16],[18.68,0.1],[18.72,0.03],[18.78,0.13],[18.82,0.19],[18.88,0.08],
  [19.3,0.478],
  [19.0,0.14],[19.0,0.07],[19.0,0.25],[19.1,0.02],[19.1,0.19],[19.1,0.11],[19.2,0.28],[19.2,0.16],[19.2,0.05],[19.3,0.09],
  [19.3,0.22],[19.3,0.13],[19.4,0.01],[19.4,0.18],[19.4,0.3],[19.5,0.12],[19.5,0.06],[19.5,0.24],[19.6,0.15],[19.6,0.2],
  [19.6,0.03],[19.7,0.1],[19.7,0.27],[19.7,0.17],[19.8,0.08],[19.8,0.13],[19.8,0.21],[19.9,0.04],[19.9,0.26],[19.9,0.16],
  [19.05,0.32],[19.15,0.14],[19.25,0.08],[19.35,0.34],[19.45,0.21],[19.55,0.1],[19.65,0.29],[19.75,0.04],[19.85,0.18],[19.95,0.11],
  [19.3,0.01],[19.7,0.36],
  [19.03,0.1],[19.03,0.2],[19.07,0.04],[19.07,0.16],[19.13,0.23],[19.13,0.08],[19.17,0.13],[19.17,0.18],[19.23,0.02],[19.23,0.21],
  [19.27,0.11],[19.27,0.15],[19.33,0.06],[19.33,0.26],[19.37,0.12],[19.37,0.19],[19.43,0.09],[19.43,0.14],[19.47,0.03],[19.47,0.17],
  [19.53,0.22],[19.53,0.13],[19.57,0.07],[19.57,0.16],[19.63,0.11],[19.63,0.24],[19.67,0.05],[19.67,0.14],[19.73,0.19],[19.73,0.09],
  [19.77,0.12],[19.77,0.23],[19.83,0.03],[19.83,0.15],[19.87,0.1],[19.87,0.2],[19.93,0.07],[19.93,0.13],[19.97,0.17],[19.97,0.28],
  [19.02,0.13],[19.08,0.09],[19.12,0.17],[19.18,0.03],[19.22,0.12],[19.28,0.18],[19.32,0.07],[19.38,0.14],[19.42,0.05],[19.48,0.1],
  [19.52,0.16],[19.58,0.12],[19.62,0.02],[19.68,0.19],[19.72,0.08],[19.78,0.15],[19.82,0.11],[19.88,0.05],
  [20.0,0.12],[20.0,0.21],[20.0,0.04],[20.1,0.16],[20.1,0.27],[20.1,0.09],[20.2,0.02],[20.2,0.14],[20.2,0.23],[20.3,0.18],
  [20.3,0.07],[20.3,0.3],[20.4,0.11],[20.4,0.2],[20.4,0.01],[20.5,0.15],[20.5,0.25],[20.5,0.06],[20.6,0.1],[20.6,0.19],
  [20.6,0.33],[20.7,0.03],[20.7,0.13],[20.7,0.22],[20.8,0.17],[20.8,0.08],[20.8,0.27],[20.9,0.12],[20.9,0.05],[20.9,0.2],
  [20.05,0.31],[20.15,0.05],[20.25,0.18],[20.35,0.12],[20.45,0.28],[20.55,0.1],[20.65,0.02],[20.75,0.16],[20.85,0.24],[20.95,0.14],
  [20.03,0.08],[20.03,0.16],[20.07,0.13],[20.07,0.24],[20.13,0.02],[20.13,0.19],[20.17,0.11],[20.17,0.06],[20.23,0.15],[20.23,0.21],
  [20.27,0.09],[20.27,0.13],[20.33,0.04],[20.33,0.17],[20.37,0.22],[20.37,0.1],[20.43,0.14],[20.43,0.07],[20.47,0.18],[20.47,0.12],
  [20.53,0.03],[20.53,0.2],[20.57,0.15],[20.57,0.08],[20.63,0.12],[20.63,0.25],[20.67,0.06],[20.67,0.17],[20.73,0.1],[20.73,0.19],
  [20.77,0.13],[20.77,0.02],[20.83,0.21],[20.83,0.09],[20.87,0.15],[20.87,0.11],[20.93,0.04],[20.93,0.18],[20.97,0.08],[20.97,0.23],
  [20.02,0.1],[20.08,0.18],[20.12,0.06],[20.18,0.14],[20.22,0.09],[20.28,0.02],[20.32,0.16],[20.38,0.12],[20.42,0.05],[20.48,0.19],
  [20.52,0.08],[20.58,0.13],[20.62,0.03],[20.68,0.11],[20.72,0.16],[20.78,0.07],[20.82,0.14],[20.88,0.1],
  [21.18,0.32],[21.37,0.32],[21.46,0.28],[21.55,0.247],[21.17,0.229],[21.71,0.21],
  [21.0,0.09],[21.0,0.17],[21.0,0.02],[21.1,0.13],[21.1,0.21],[21.1,0.06],[21.2,0.15],[21.2,0.1],[21.2,0.01],[21.3,0.19],
  [21.3,0.07],[21.3,0.12],[21.4,0.04],[21.4,0.16],[21.4,0.22],[21.5,0.11],[21.5,0.18],[21.5,0.03],[21.6,0.14],[21.6,0.08],
  [21.6,0.2],[21.7,0.12],[21.7,0.02],[21.7,0.17],[21.8,0.06],[21.8,0.15],[21.8,0.24],[21.9,0.1],[21.9,0.19],[21.9,0.04],
  [21.05,0.14],[21.15,0.08],[21.25,0.2],[21.35,0.04],[21.45,0.13],[21.55,0.09],[21.65,0.17],[21.75,0.07],[21.85,0.11],[21.95,0.22],
  [21.03,0.12],[21.03,0.19],[21.07,0.05],[21.07,0.16],[21.13,0.1],[21.13,0.24],[21.17,0.14],[21.17,0.03],[21.23,0.07],[21.23,0.17],
  [21.27,0.11],[21.27,0.22],[21.33,0.15],[21.33,0.09],[21.37,0.02],[21.37,0.18],[21.43,0.13],[21.43,0.08],[21.47,0.2],[21.47,0.1],
  [21.53,0.06],[21.53,0.14],[21.57,0.17],[21.57,0.12],[21.63,0.03],[21.63,0.21],[21.67,0.09],[21.67,0.15],[21.73,0.12],[21.73,0.19],
  [21.77,0.05],[21.77,0.14],[21.83,0.1],[21.83,0.18],[21.87,0.07],[21.87,0.13],[21.93,0.16],[21.93,0.02],[21.97,0.11],[21.97,0.2],
  [21.02,0.06],[21.08,0.12],[21.12,0.18],[21.18,0.09],[21.22,0.13],[21.28,0.04],[21.32,0.16],[21.38,0.1],[21.42,0.07],[21.48,0.15],
  [21.52,0.02],[21.58,0.11],[21.62,0.17],[21.68,0.06],[21.72,0.13],[21.78,0.09],[21.82,0.03],[21.88,0.16],
  [22.55,0.298],[22.72,0.287],[22.41,0.232],[22.72,0.229],
  [22.0,0.13],[22.0,0.05],[22.0,0.2],[22.1,0.09],[22.1,0.17],[22.1,0.02],[22.2,0.14],[22.2,0.22],[22.2,0.07],[22.3,0.11],
  [22.3,0.18],[22.3,0.03],[22.4,0.15],[22.4,0.08],[22.4,0.12],[22.5,0.19],[22.5,0.01],[22.5,0.1],[22.6,0.16],[22.6,0.06],
  [22.6,0.21],[22.7,0.12],[22.7,0.04],[22.7,0.17],[22.8,0.09],[22.8,0.14],[22.8,0.24],[22.9,0.02],[22.9,0.18],[22.9,0.11],
  [22.05,0.1],[22.15,0.25],[22.25,0.04],[22.35,0.15],[22.45,0.06],[22.55,0.13],[22.65,0.19],[22.75,0.08],[22.85,0.03],[22.95,0.15],
  [22.03,0.08],[22.03,0.16],[22.07,0.12],[22.07,0.22],[22.13,0.04],[22.13,0.14],[22.17,0.19],[22.17,0.09],[22.23,0.11],[22.23,0.17],
  [22.27,0.02],[22.27,0.13],[22.33,0.2],[22.33,0.08],[22.37,0.15],[22.37,0.11],[22.43,0.05],[22.43,0.18],[22.47,0.13],[22.47,0.23],
  [22.53,0.09],[22.53,0.16],[22.57,0.03],[22.57,0.12],[22.63,0.17],[22.63,0.1],[22.67,0.14],[22.67,0.21],[22.73,0.06],[22.73,0.13],
  [22.77,0.19],[22.77,0.11],[22.83,0.02],[22.83,0.16],[22.87,0.09],[22.87,0.2],[22.93,0.13],[22.93,0.06],[22.97,0.18],[22.97,0.1],
  [22.02,0.11],[22.08,0.04],[22.12,0.16],[22.18,0.12],[22.22,0.07],[22.28,0.19],[22.32,0.1],[22.38,0.03],[22.42,0.14],[22.48,0.08],
  [22.52,0.17],[22.58,0.12],[22.62,0.05],[22.68,0.1],[22.72,0.15],[22.78,0.02],[22.82,0.12],[22.88,0.07],
  [23.55,0.25],[23.84,0.269],
  [23.0,0.07],[23.0,0.16],[23.0,0.21],[23.1,0.11],[23.1,0.03],[23.1,0.18],[23.2,0.14],[23.2,0.08],[23.2,0.23],[23.3,0.05],
  [23.3,0.12],[23.3,0.19],[23.4,0.1],[23.4,0.15],[23.4,0.01],[23.5,0.17],[23.5,0.06],[23.5,0.13],[23.6,0.09],[23.6,0.2],
  [23.6,0.03],[23.7,0.14],[23.7,0.11],[23.7,0.22],[23.8,0.07],[23.8,0.16],[23.8,0.02],[23.9,0.12],[23.9,0.19],[23.9,0.05],
  [23.05,0.12],[23.15,0.06],[23.25,0.17],[23.35,0.09],[23.45,0.21],[23.55,0.02],[23.65,0.15],[23.75,0.05],[23.85,0.1],[23.95,0.24],
  [23.03,0.1],[23.03,0.18],[23.07,0.04],[23.07,0.14],[23.13,0.2],[23.13,0.09],[23.17,0.12],[23.17,0.16],[23.23,0.02],[23.23,0.11],
  [23.27,0.15],[23.27,0.22],[23.33,0.07],[23.33,0.13],[23.37,0.18],[23.37,0.1],[23.43,0.04],[23.43,0.14],[23.47,0.12],[23.47,0.19],
  [23.53,0.08],[23.53,0.15],[23.57,0.11],[23.57,0.21],[23.63,0.06],[23.63,0.12],[23.67,0.17],[23.67,0.02],[23.73,0.13],[23.73,0.09],
  [23.77,0.19],[23.77,0.11],[23.83,0.14],[23.83,0.05],[23.87,0.08],[23.87,0.17],[23.93,0.12],[23.93,0.2],[23.97,0.03],[23.97,0.14],
  [23.02,0.13],[23.08,0.08],[23.12,0.15],[23.18,0.04],[23.22,0.1],[23.28,0.17],[23.32,0.11],[23.38,0.06],[23.42,0.13],[23.48,0.02],
  [23.52,0.18],[23.58,0.09],[23.62,0.14],[23.68,0.07],[23.72,0.03],[23.78,0.12],[23.82,0.17],[23.88,0.1],
  [24.72,0.25],[25.09,0.32],[24.32,0.21],
  [24.0,0.1],[24.0,0.17],[24.0,0.03],[24.1,0.14],[24.1,0.21],[24.1,0.07],[24.2,0.12],[24.2,0.01],[24.2,0.18],[24.3,0.09],
  [24.3,0.15],[24.3,0.04],[24.4,0.13],[24.4,0.2],[24.4,0.06],[24.5,0.11],[24.5,0.16],[24.5,0.02],[24.6,0.08],[24.6,0.19],
  [24.6,0.13],[24.7,0.05],[24.7,0.14],[24.7,0.1],[24.8,0.17],[24.8,0.03],[24.8,0.22],[24.9,0.12],[24.9,0.07],[24.9,0.15],
  [24.05,0.23],[24.15,0.1],[24.25,0.06],[24.35,0.18],[24.45,0.09],[24.55,0.14],[24.65,0.01],[24.75,0.19],[24.85,0.08],[24.95,0.11],
  [24.03,0.13],[24.03,0.07],[24.07,0.19],[24.07,0.11],[24.13,0.04],[24.13,0.16],[24.17,0.12],[24.17,0.22],[24.23,0.09],[24.23,0.14],
  [24.27,0.02],[24.27,0.18],[24.33,0.12],[24.33,0.07],[24.37,0.15],[24.37,0.2],[24.43,0.1],[24.43,0.03],[24.47,0.13],[24.47,0.18],
  [24.53,0.07],[24.53,0.11],[24.57,0.16],[24.57,0.21],[24.63,0.09],[24.63,0.14],[24.67,0.04],[24.67,0.12],[24.73,0.17],[24.73,0.08],
  [24.77,0.13],[24.77,0.02],[24.83,0.11],[24.83,0.19],[24.87,0.06],[24.87,0.15],[24.93,0.1],[24.93,0.2],[24.97,0.13],[24.97,0.04],
  [24.02,0.08],[24.08,0.15],[24.12,0.1],[24.18,0.05],[24.22,0.16],[24.28,0.12],[24.32,0.02],[24.38,0.09],[24.42,0.17],[24.48,0.13],
  [24.52,0.04],[24.58,0.11],[24.62,0.18],[24.68,0.07],[24.72,0.12],[24.78,0.15],[24.82,0.05],[24.88,0.1],
  [25.0,0.13],[25.0,0.06],[25.0,0.19],[25.1,0.09],[25.1,0.15],[25.1,0.02],[25.2,0.11],[25.2,0.21],[25.2,0.05],[25.3,0.14],
  [25.3,0.08],[25.3,0.17],[25.4,0.03],[25.4,0.12],[25.4,0.24],[25.5,0.1],[25.5,0.16],[25.5,0.06],[25.6,0.13],[25.6,0.01],
  [25.6,0.19],[25.7,0.08],[25.7,0.14],[25.7,0.22],[25.8,0.11],[25.8,0.04],[25.8,0.16],[25.9,0.09],[25.9,0.2],[25.9,0.13],
  [25.05,0.1],[25.15,0.18],[25.25,0.13],[25.35,0.04],[25.45,0.2],[25.55,0.09],[25.65,0.15],[25.75,0.03],[25.85,0.12],[25.95,0.06],
  [25.03,0.11],[25.03,0.17],[25.07,0.04],[25.07,0.13],[25.13,0.2],[25.13,0.08],[25.17,0.12],[25.17,0.15],[25.23,0.02],[25.23,0.17],
  [25.27,0.1],[25.27,0.06],[25.33,0.13],[25.33,0.21],[25.37,0.09],[25.37,0.15],[25.43,0.04],[25.43,0.12],[25.47,0.17],[25.47,0.08],
  [25.53,0.13],[25.53,0.2],[25.57,0.06],[25.57,0.11],[25.63,0.16],[25.63,0.09],[25.67,0.02],[25.67,0.13],[25.73,0.18],[25.73,0.11],
  [25.77,0.07],[25.77,0.14],[25.83,0.1],[25.83,0.21],[25.87,0.04],[25.87,0.15],[25.93,0.12],[25.93,0.08],[25.97,0.17],[25.97,0.1],
  [25.02,0.14],[25.08,0.07],[25.12,0.12],[25.18,0.03],[25.22,0.09],[25.28,0.15],[25.32,0.06],[25.38,0.18],[25.42,0.1],[25.48,0.13],
  [25.52,0.04],[25.58,0.16],[25.62,0.11],[25.68,0.07],[25.72,0.14],[25.78,0.02],[25.82,0.09],[25.88,0.17],
  [26.36,0.308],
  [26.0,0.07],[26.0,0.14],[26.0,0.2],[26.1,0.11],[26.1,0.03],[26.1,0.17],[26.2,0.09],[26.2,0.13],[26.2,0.22],[26.3,0.05],
  [26.3,0.15],[26.3,0.1],[26.4,0.18],[26.4,0.02],[26.4,0.12],[26.5,0.08],[26.5,0.16],[26.5,0.24],[26.6,0.11],[26.6,0.04],
  [26.6,0.14],[26.7,0.19],[26.7,0.07],[26.7,0.12],[26.8,0.1],[26.8,0.16],[26.8,0.01],[26.9,0.13],[26.9,0.06],[26.9,0.21],
  [26.05,0.1],[26.15,0.24],[26.25,0.06],[26.35,0.13],[26.45,0.08],[26.55,0.2],[26.65,0.02],[26.75,0.15],[26.85,0.09],[26.95,0.17],
  [26.03,0.1],[26.03,0.17],[26.07,0.05],[26.07,0.13],[26.13,0.19],[26.13,0.08],[26.17,0.12],[26.17,0.14],[26.23,0.03],[26.23,0.16],
  [26.27,0.1],[26.27,0.21],[26.33,0.07],[26.33,0.13],[26.37,0.17],[26.37,0.02],[26.43,0.11],[26.43,0.15],[26.47,0.08],[26.47,0.19],
  [26.53,0.12],[26.53,0.04],[26.57,0.15],[26.57,0.1],[26.63,0.07],[26.63,0.18],[26.67,0.13],[26.67,0.22],[26.73,0.03],[26.73,0.1],
  [26.77,0.16],[26.77,0.08],[26.83,0.12],[26.83,0.19],[26.87,0.05],[26.87,0.14],[26.93,0.1],[26.93,0.17],[26.97,0.02],[26.97,0.12],
  [26.02,0.12],[26.08,0.04],[26.12,0.15],[26.18,0.09],[26.22,0.13],[26.28,0.06],[26.32,0.18],[26.38,0.1],[26.42,0.03],[26.48,0.12],
  [26.52,0.16],[26.58,0.07],[26.62,0.11],[26.68,0.02],[26.72,0.14],[26.78,0.12],[26.82,0.06],[26.88,0.16],
  [27.87,0.287],[27.59,0.256],
  [27.0,0.12],[27.0,0.05],[27.0,0.18],[27.1,0.09],[27.1,0.15],[27.1,0.22],[27.2,0.03],[27.2,0.11],[27.2,0.14],[27.3,0.17],
  [27.3,0.07],[27.3,0.1],[27.4,0.13],[27.4,0.2],[27.4,0.02],[27.5,0.08],[27.5,0.15],[27.5,0.11],[27.6,0.05],[27.6,0.18],
  [27.6,0.13],[27.7,0.09],[27.7,0.21],[27.7,0.01],[27.8,0.14],[27.8,0.07],[27.8,0.11],[27.9,0.16],[27.9,0.04],[27.9,0.19],
  [27.05,0.08],[27.15,0.02],[27.25,0.19],[27.35,0.12],[27.45,0.06],[27.55,0.23],[27.65,0.1],[27.75,0.16],[27.85,0.03],[27.95,0.12],
  [27.03,0.1],[27.03,0.15],[27.07,0.04],[27.07,0.2],[27.13,0.12],[27.13,0.07],[27.17,0.16],[27.17,0.11],[27.23,0.06],[27.23,0.13],
  [27.27,0.02],[27.27,0.17],[27.33,0.14],[27.33,0.09],[27.37,0.2],[27.37,0.05],[27.43,0.1],[27.43,0.16],[27.47,0.13],[27.47,0.03],
  [27.53,0.08],[27.53,0.18],[27.57,0.12],[27.57,0.06],[27.63,0.15],[27.63,0.21],[27.67,0.09],[27.67,0.13],[27.73,0.03],[27.73,0.17],
  [27.77,0.11],[27.77,0.07],[27.83,0.14],[27.83,0.19],[27.87,0.09],[27.87,0.02],[27.93,0.13],[27.93,0.07],[27.97,0.16],[27.97,0.1],
  [27.02,0.07],[27.08,0.13],[27.12,0.1],[27.18,0.04],[27.22,0.17],[27.28,0.11],[27.32,0.05],[27.38,0.14],[27.42,0.08],[27.48,0.18],
  [27.52,0.12],[27.58,0.02],[27.62,0.1],[27.68,0.16],[27.72,0.07],[27.78,0.13],[27.82,0.04],[27.88,0.11],
  [28.39,0.232],
  [28.0,0.1],[28.0,0.17],[28.0,0.03],[28.1,0.13],[28.1,0.07],[28.1,0.2],[28.2,0.11],[28.2,0.15],[28.2,0.01],[28.3,0.08],
  [28.3,0.18],[28.3,0.12],[28.4,0.05],[28.4,0.14],[28.4,0.09],[28.5,0.16],[28.5,0.02],[28.5,0.21],[28.6,0.11],[28.6,0.06],
  [28.6,0.13],[28.7,0.18],[28.7,0.09],[28.7,0.03],[28.8,0.12],[28.8,0.15],[28.8,0.07],[28.9,0.1],[28.9,0.19],[28.9,0.04],
  [28.05,0.14],[28.15,0.05],[28.25,0.22],[28.35,0.1],[28.45,0.17],[28.55,0.08],[28.65,0.24],[28.75,0.13],[28.85,0.01],[28.95,0.14],
  [28.03,0.07],[28.03,0.13],[28.07,0.17],[28.07,0.1],[28.13,0.03],[28.13,0.15],[28.17,0.11],[28.17,0.19],[28.23,0.06],[28.23,0.13],
  [28.27,0.09],[28.27,0.16],[28.33,0.02],[28.33,0.14],[28.37,0.11],[28.37,0.2],[28.43,0.07],[28.43,0.12],[28.47,0.15],[28.47,0.04],
  [28.53,0.1],[28.53,0.18],[28.57,0.13],[28.57,0.06],[28.63,0.09],[28.63,0.16],[28.67,0.02],[28.67,0.12],[28.73,0.15],[28.73,0.21],
  [28.77,0.08],[28.77,0.11],[28.83,0.04],[28.83,0.17],[28.87,0.12],[28.87,0.08],[28.93,0.15],[28.93,0.1],[28.97,0.05],[28.97,0.18],
  [28.02,0.12],[28.08,0.05],[28.12,0.16],[28.18,0.08],[28.22,0.13],[28.28,0.03],[28.32,0.1],[28.38,0.15],[28.42,0.06],[28.48,0.11],
  [28.52,0.17],[28.58,0.09],[28.62,0.02],[28.68,0.14],[28.72,0.1],[28.78,0.05],[28.82,0.13],[28.88,0.16],
  [29.07,0.262],[28.9,0.256],[29.76,0.229],[29.07,-0.005],[29.9,0.0],
  [29.0,0.12],[29.0,0.06],[29.0,0.17],[29.1,0.09],[29.1,0.14],[29.1,0.21],[29.2,0.03],[29.2,0.11],[29.2,0.16],[29.3,0.08],
  [29.3,0.13],[29.3,0.19],[29.4,0.05],[29.4,0.1],[29.4,0.15],[29.5,0.12],[29.5,0.02],[29.5,0.18],[29.6,0.09],[29.6,0.14],
  [29.6,0.06],[29.7,0.11],[29.7,0.17],[29.7,0.03],[29.8,0.13],[29.8,0.08],[29.8,0.2],[29.9,0.1],[29.9,0.15],[29.9,0.05],
  [29.05,0.01],[29.25,0.23],[29.45,0.07],[29.65,0.21],[29.85,0.12],[29.95,0.0],
  [29.03,0.09],[29.03,0.15],[29.07,0.12],[29.07,0.04],[29.13,0.17],[29.13,0.07],[29.17,0.11],[29.17,0.19],[29.23,0.05],[29.23,0.14],
  [29.27,0.09],[29.27,0.16],[29.33,0.02],[29.33,0.12],[29.37,0.18],[29.37,0.1],[29.43,0.13],[29.43,0.06],[29.47,0.16],[29.47,0.11],
  [29.53,0.08],[29.53,0.14],[29.57,0.03],[29.57,0.19],[29.63,0.11],[29.63,0.07],[29.67,0.14],[29.67,0.09],[29.73,0.05],[29.73,0.16],
  [29.77,0.12],[29.77,0.02],[29.83,0.1],[29.83,0.17],[29.87,0.07],[29.87,0.13],[29.93,0.11],[29.93,0.19],[29.97,0.06],[29.97,0.14],
  [29.02,0.1],[29.08,0.16],[29.12,0.03],[29.18,0.13],[29.22,0.08],[29.28,0.11],[29.32,0.17],[29.38,0.05],[29.42,0.12],[29.48,0.09],
  [29.52,0.15],[29.58,0.06],[29.62,0.12],[29.68,0.02],[29.72,0.14],[29.78,0.09],[29.82,0.05],[29.88,0.16],
  [30.28,0.306],[30.1,0.269],[30.18,0.243],[30.96,0.113],
  [30.0,0.11],[30.0,0.06],[30.1,0.15],[30.1,0.03],[30.2,0.09],[30.2,0.19],[30.3,0.12],[30.3,0.05],[30.4,0.16],[30.4,0.08],
  [30.5,0.13],[30.5,0.21],[30.6,0.1],[30.6,0.04],[30.7,0.14],[30.7,0.18],[30.8,0.07],[30.8,0.12],[30.9,0.16],[30.9,0.09],
  [30.05,0.2],[30.35,0.1],[30.55,0.07],[30.75,0.11],[30.85,0.22],
  [30.03,0.13],[30.07,0.08],[30.13,0.18],[30.17,0.05],[30.23,0.14],[30.27,0.1],[30.33,0.17],[30.37,0.04],[30.43,0.12],[30.47,0.19],
  [30.53,0.09],[30.57,0.15],[30.63,0.06],[30.67,0.12],[30.77,0.17],[30.93,0.05],
  [31.4,0.22],[31.65,0.177],[31.97,0.128],[32.65,0.123],[33.27,0.125],[31.13,0.113],[31.36,0.082],[32.31,0.064],[32.79,0.064],[31.13,0.01],
  [31.51,0.03],
  [31.0,0.08],[31.0,0.15],[31.1,0.05],[31.2,0.12],[31.2,0.18],[31.3,0.1],[31.5,0.07],[31.5,0.14],[31.6,0.11],[31.7,0.05],
  [31.8,0.09],[31.9,0.16],[32.0,0.07],[32.1,0.1],[32.2,0.04],[32.4,0.09],[32.5,0.13],[32.6,0.06],[32.9,0.1],[33.0,0.07],
  [33.1,0.04],
  [31.03,0.12],[31.27,0.07],[31.43,0.15],[31.57,0.09],[31.77,0.13],[32.03,0.11],[32.27,0.08],[32.47,0.05],[32.83,0.08],[33.17,0.1]
];

const colors = {
  micro: '#FB6A4A',
  stress: '#6BAED6',
  microLine: '#D7262B',
  stressLine: '#2171B5'
};

const chart = echarts.init(document.getElementById('chart'), null, { renderer: 'canvas' });

const option = {
  animation: false,
  backgroundColor: '#fff',
  textStyle: { fontFamily: 'Liberation Sans, Arial, sans-serif' },
  title: {
    text: 'Outcome',
    left: 179,
    top: 1,
    padding: 0,
    textStyle: { fontSize: 19, fontWeight: 'bold', color: '#000' }
  },
  legend: {
    left: 279,
    top: 3,
    padding: 0,
    itemWidth: 8,
    itemHeight: 7,
    itemGap: 20,
    textStyle: { fontSize: 15, color: '#1a1a1a', padding: [0, 0, 0, 13] },
    data: [
      { name: 'Micromotion', icon: 'triangle' },
      { name: 'Stress shielding', icon: 'circle' }
    ]
  },
  grid: {
    left: 56,
    right: 2,
    top: 30,
    bottom: 51,
    outerBoundsMode: 'none',
    show: true,
    borderColor: '#333',
    borderWidth: 1,
    backgroundColor: '#fff'
  },
  xAxis: {
    type: 'value',
    min: 13.33,
    max: 34.22,
    name: 'Stem length / Femur length (%)',
    nameLocation: 'middle',
    nameGap: 26,
    nameMoveOverlap: false,
    nameTextStyle: { fontSize: 19, fontWeight: 'bold', color: '#000' },
    splitLine: { show: false },
    axisLine: { show: false },
    axisTick: { show: true, length: 4, lineStyle: { color: '#333' }, customValues: xTicks },
    axisLabel: { fontSize: 14, color: '#4D4D4D', margin: 9, customValues: xTicks }
  },
  yAxis: {
    type: 'value',
    min: -0.0825,
    max: 1.788,
    name: 'Normalised Score of Outcomes',
    nameLocation: 'middle',
    nameGap: 31,
    nameMoveOverlap: false,
    nameTextStyle: { fontSize: 20, fontWeight: 'bold', color: '#000' },
    splitLine: { show: false },
    axisLine: { show: false },
    axisTick: { show: true, length: 4, lineStyle: { color: '#333' }, customValues: yTicks },
    axisLabel: {
      fontSize: 14,
      color: '#4D4D4D',
      margin: 10,
      customValues: yTicks,
      formatter: (v) => v.toFixed(1)
    }
  },
  series: [
    {
      name: 'Stress shielding',
      type: 'scatter',
      symbol: 'circle',
      symbolSize: 7,
      progressive: 0,
      itemStyle: { color: colors.stress, opacity: 1 },
      data: stressPoints
    },
    {
      name: 'Micromotion',
      type: 'scatter',
      symbol: 'triangle',
      symbolSize: [8.5, 7.5],
      progressive: 0,
      itemStyle: { color: colors.micro, opacity: 1 },
      data: microPoints
    },
    {
      name: 'Stress fit',
      type: 'line',
      symbol: 'none',
      z: 5,
      lineStyle: { color: colors.stressLine, width: 3 },
      data: fitX.map((x, i) => [x, stressFit[i]])
    },
    {
      name: 'Micro fit',
      type: 'line',
      symbol: 'none',
      z: 5,
      lineStyle: { color: colors.microLine, width: 3 },
      data: fitX.map((x, i) => [x, microFit[i]])
    }
  ]
};

chart.setOption(option);
</script>
</body>
</html>
